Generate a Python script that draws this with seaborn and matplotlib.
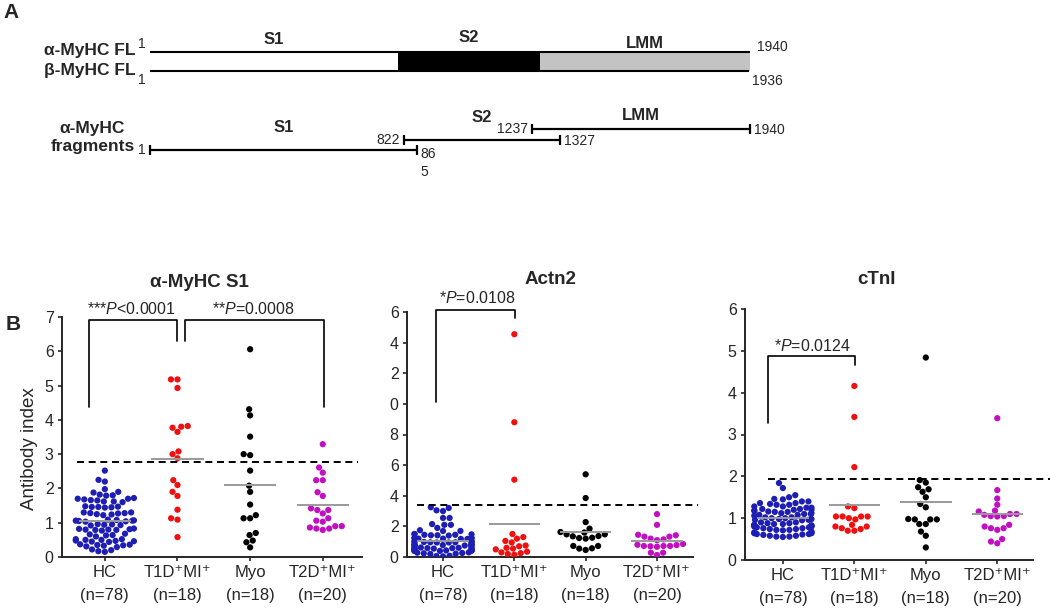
import numpy as np
import pandas as pd
import matplotlib
matplotlib.use("Agg")
import matplotlib.pyplot as plt
import seaborn as sns

# ---- panel A: myosin heavy chain constructs (residue numbers) ----
fl_domains = ["S1", "S2", "LMM"]
fl_bounds = [1, 802, 1260, 1940]          # domain borders of the full-length bar (estimated)
fl_alpha_end = 1940
fl_beta_end = 1936
frag_names = ["S1", "S2", "LMM"]
frag_start = [1, 822, 1237]
frag_end = [865, 1327, 1940]
frag_start_text = ["1", "822", "1237"]
frag_end_text = ["86\n5", "1327", "1940"]

# ---- panel B: antibody index per group ----
groups = ["HC", "T1D⁺MI⁺", "Myo", "T2D⁺MI⁺"]
group_n = [78, 18, 18, 20]

s1_hc = [2.52, 2.25, 2.2, 1.98, 1.9, 1.88, 1.82, 1.8, 1.79,
         1.72, 1.7, 1.68, 1.66, 1.62, 1.6, 1.62, 1.65, 1.7,
         1.48, 1.46, 1.45, 1.44, 1.46, 1.47,
         1.3, 1.28, 1.27, 1.24, 1.22, 1.25, 1.28, 1.3,
         1.08, 1.07, 1.06, 1.04, 1.03, 1.05, 1.06, 1.09,
         0.96, 0.95, 0.93, 0.92, 0.94,
         0.82, 0.8, 0.79, 0.77, 0.79, 0.8, 0.81, 0.83,
         0.68, 0.64, 0.6, 0.63, 0.66,
         0.52, 0.5, 0.48, 0.46, 0.44, 0.45, 0.47, 0.5, 0.52,
         0.37, 0.35, 0.33, 0.29, 0.31, 0.34, 0.36,
         0.22, 0.17, 0.15, 0.2]
s1_t1d = [5.18, 5.18, 4.93, 3.82, 3.65, 3.77, 3.8, 3.08, 3.0, 2.88,
          2.24, 2.1, 1.9, 1.78, 1.38, 1.13, 1.09, 0.58]
s1_myo = [6.06, 4.31, 4.13, 3.51, 3.0, 2.97, 2.52, 2.08, 1.9,
          1.53, 1.22, 1.13, 1.13, 0.7, 0.64, 0.48, 0.43, 0.28]
s1_t2d = [3.29, 2.61, 2.46, 2.24, 2.24, 1.89, 1.78, 1.37, 1.37, 1.42,
          1.27, 1.06, 1.13, 1.03, 0.9, 0.83, 0.79, 0.83, 0.86, 0.9]

actn_hc = [3.25, 3.2, 3.05, 3.0, 2.55, 2.55, 2.15, 2.1, 2.1,
           1.9, 1.75, 1.7, 1.7,
           1.5, 1.48, 1.45, 1.42, 1.4, 1.42, 1.45, 1.5,
           1.25, 1.22, 1.2, 1.18, 1.18, 1.2, 1.22, 1.25,
           1.02, 1.0, 0.98, 0.96, 0.95, 0.95, 0.96, 0.98, 1.0, 1.02,
           0.82, 0.8, 0.78, 0.76, 0.75, 0.75, 0.76, 0.78, 0.8, 0.82,
           0.62, 0.6, 0.58, 0.56, 0.55, 0.55, 0.56, 0.58, 0.6, 0.62,
           0.46, 0.45, 0.43, 0.41, 0.4, 0.4, 0.41, 0.43, 0.45, 0.46,
           0.3, 0.26, 0.22, 0.2, 0.24, 0.28, 0.08, 0.04, 0.06]
actn_t1d = [14.55, 8.8, 5.05, 1.5, 1.3, 1.2, 1.05, 0.95, 0.75, 0.7,
            0.6, 0.55, 0.5, 0.35, 0.3, 0.25, 0.2, 0.15]
actn_myo = [5.4, 3.85, 2.28, 1.85, 1.6, 1.48, 1.35, 1.26, 1.2,
            1.24, 1.37, 1.48, 1.63, 0.72, 0.57, 0.46, 0.55, 0.72]
actn_t2d = [2.8, 2.1, 1.45, 1.42, 1.33, 1.2, 1.1, 1.15, 1.33, 0.8,
            0.7, 0.85, 0.78, 0.72, 0.72, 0.67, 0.72, 0.28, 0.13, 0.28]

ctni_hc = [1.84, 1.72, 1.55,
           1.5, 1.45, 1.4, 1.36, 1.34, 1.36, 1.4, 1.46,
           1.32, 1.28, 1.25, 1.22, 1.2, 1.22, 1.25, 1.28, 1.32,
           1.2, 1.18, 1.16, 1.18,
           1.15, 1.12, 1.1, 1.08, 1.06, 1.08, 1.1, 1.12, 1.15,
           1.02, 1.0, 0.98, 0.96, 0.95, 0.96, 0.98, 1.0, 1.02,
           0.9, 0.88, 0.86, 0.84, 0.83, 0.84, 0.86, 0.88, 0.9,
           0.82, 0.8, 0.8, 0.82,
           0.78, 0.76, 0.74, 0.72, 0.71, 0.72, 0.74, 0.76, 0.78,
           0.68, 0.66, 0.64, 0.62, 0.61, 0.62, 0.64, 0.66,
           0.6, 0.58, 0.56, 0.55, 0.56, 0.58]
ctni_t1d = [4.16, 3.42, 2.22, 1.28, 1.24, 1.04, 1.04, 1.0, 0.97,
            1.04, 1.04, 0.84, 0.8, 0.74, 0.7, 0.7, 0.76, 0.8]
ctni_myo = [4.84, 1.91, 1.85, 1.74, 1.69, 1.63, 1.5, 1.34, 1.26,
            0.98, 0.97, 0.97, 0.97, 0.86, 0.86, 0.68, 0.58, 0.3]
ctni_t2d = [3.39, 1.67, 1.47, 1.32, 1.16, 1.1, 1.05, 1.04, 1.05, 1.08,
            1.1, 1.18, 0.8, 0.76, 0.72, 0.76, 0.84, 0.5, 0.4, 0.44]

panel_titles = ["α-MyHC S1", "Actn2", "cTnI"]
panel_values = [[s1_hc, s1_t1d, s1_myo, s1_t2d],
                [actn_hc, actn_t1d, actn_myo, actn_t2d],
                [ctni_hc, ctni_t1d, ctni_myo, ctni_t2d]]
cutoffs = [2.77, 3.4, 1.93]
p_labels = [[r"***$\it{P}$<0.0001", r"**$\it{P}$=0.0008"],
            [r"*$\it{P}$=0.0108"],
            [r"*$\it{P}$=0.0124"]]
ytick_vals = [list(range(0, 8)), list(range(0, 17, 2)), list(range(0, 7))]
ytick_text = [[str(v) for v in range(0, 8)],
              ["0", "2", "4", "6", "8", "0", "2", "4", "6"],
              [str(v) for v in range(0, 7)]]

# ---- style ----
sns.set_theme(style="ticks")
plt.rcParams["font.family"] = ["Liberation Sans", "DejaVu Sans"]
plt.rcParams["mathtext.fontset"] = "custom"
plt.rcParams["mathtext.rm"] = "Liberation Sans"
plt.rcParams["mathtext.it"] = "Liberation Sans:italic"
plt.rcParams["axes.linewidth"] = 1.4

colors = ["#1e1eb4", "#f01010", "#000000", "#c20fc2"]

fig = plt.figure(figsize=(10.5, 6.08), dpi=100)

# ================= panel A =================
axA = fig.add_axes([0, 1 - 200 / 608, 1, 200 / 608])
k = (fl_alpha_end - 1) / 600.0
axA.set_xlim(1 - 150 * k, 1 + 900 * k)
axA.set_ylim(200, 0)
axA.axis("off")

bar_top, bar_bot = 52, 71
fill_cols = ["white", "black", "#c3c3c3"]
for i, name in enumerate(fl_domains):
    axA.fill_between([fl_bounds[i], fl_bounds[i + 1]], bar_top, bar_bot,
                     color=fill_cols[i], lw=0)
    axA.text((fl_bounds[i] + fl_bounds[i + 1]) / 2, [40, 37, 43][i], name,
             ha="center", va="center", fontsize=12, fontweight="bold")
axA.hlines(bar_top, 1, fl_alpha_end, color="black", lw=1.5)
axA.hlines(bar_bot, 1, fl_beta_end, color="black", lw=1.5)
axA.annotate("1", (1, 44), xytext=(-3, 0), textcoords="offset points",
             ha="right", va="center", fontsize=10)
axA.annotate("1", (1, 80), xytext=(-3, 0), textcoords="offset points",
             ha="right", va="center", fontsize=10)
axA.annotate(str(fl_alpha_end), (fl_alpha_end, 47), xytext=(5, 0),
             textcoords="offset points", ha="left", va="center", fontsize=10)
axA.annotate(str(fl_beta_end), (fl_beta_end, 81), xytext=(2, 0),
             textcoords="offset points", ha="left", va="center", fontsize=10)
axA.text(0.129, 1 - 50 / 200, "α-MyHC FL", transform=axA.transAxes,
         ha="right", va="center", fontsize=12.5, fontweight="bold")
axA.text(0.129, 1 - 71 / 200, "β-MyHC FL", transform=axA.transAxes,
         ha="right", va="center", fontsize=12.5, fontweight="bold")
axA.text(0.088, 1 - 138 / 200, "α-MyHC\nfragments", transform=axA.transAxes,
         ha="center", va="center", fontsize=12.5, fontweight="bold",
         linespacing=1.25)

row_y = [150, 140, 129]
name_y = [127, 118, 115]
for i, name in enumerate(frag_names):
    y = row_y[i]
    axA.hlines(y, frag_start[i], frag_end[i], color="black", lw=1.6)
    axA.vlines([frag_start[i], frag_end[i]], y - 5, y + 5, color="black", lw=1.6)
    axA.text((frag_start[i] + frag_end[i]) / 2, name_y[i], name,
             ha="center", va="center", fontsize=12, fontweight="bold")
    axA.annotate(frag_start_text[i], (frag_start[i], y), xytext=(-3, 0),
                 textcoords="offset points", ha="right", va="center", fontsize=10)
    if i == 0:
        axA.annotate(frag_end_text[i], (frag_end[i], y - 3), xytext=(2, 0),
                     textcoords="offset points", ha="left", va="top", fontsize=10,
                     linespacing=1.35)
    else:
        axA.annotate(frag_end_text[i], (frag_end[i], y + 1), xytext=(3, 0),
                     textcoords="offset points", ha="left", va="center", fontsize=10)

fig.text(0.003, 1 - 13 / 608, "A", fontsize=15, fontweight="bold", va="center")
fig.text(0.005, 1 - 325 / 608, "B", fontsize=15, fontweight="bold", va="center")

# ================= panel B =================
ax_boxes = [[62 / 1050, 51 / 608, 300 / 1050, 240 / 608],
            [407 / 1050, 51 / 608, 286 / 1050, 245 / 608],
            [745 / 1050, 48 / 608, 288 / 1050, 251 / 608]]
xlims = [(-0.59, 3.54), (-0.505, 3.505), (-0.53, 3.5)]
title_pos = [(199, 282), (550, 280), (877, 280)]
dash_span = [(0.05, 0.987), (0.035, 1.017), (0.08, 1.06)]
# bracket layout: (x_left, x_right, y_top, y_left_end, y_right_end, text_x, text_y)
brackets = [[(-0.22, 0.99, 6.92, 4.37, 6.3, 0.36, 7.22),
             (1.11, 3.02, 6.92, 6.3, 4.37, 2.05, 7.22)],
            [(-0.1, 1.01, 16.13, 10.1, 15.6, 0.48, 16.9)],
            [(-0.21, 1.01, 4.88, 3.28, 4.67, 0.41, 5.12)]]

tick_labels = [f"{g}\n(n={n})" for g, n in zip(groups, group_n)]

for p in range(3):
    ax = fig.add_axes(ax_boxes[p])
    df = pd.DataFrame({
        "group": np.concatenate([[g] * len(v) for g, v in zip(groups, panel_values[p])]),
        "value": np.concatenate(panel_values[p]),
    })
    sns.swarmplot(data=df, x="group", y="value", hue="group", order=groups,
                  hue_order=groups, palette=colors, size=4.5, linewidth=0,
                  legend=False, ax=ax, warn_thresh=1.0)
    means = df.groupby("group")["value"].mean().reindex(groups).values
    ax.hlines(means, np.arange(4) - 0.36, np.arange(4) + 0.36,
              color="#9a9a9a", lw=1.4, zorder=5)
    ax.axhline(cutoffs[p], xmin=dash_span[p][0], xmax=dash_span[p][1],
               color="black", lw=1.4, dashes=(3.6, 2.4), clip_on=False, zorder=6)
    for b, lab in zip(brackets[p], p_labels[p]):
        x0, x1, yt, y0, y1, tx, ty = b
        ax.plot([x0, x0, x1, x1], [y0, yt, yt, y1], color="black", lw=1.2,
                clip_on=False)
        ax.text(tx, ty, lab, ha="center", va="center", fontsize=11.5)

    ax.set_xlim(*xlims[p])
    ax.set_ylim(0, ytick_vals[p][-1])
    ax.set_yticks(ytick_vals[p])
    ax.set_yticklabels(ytick_text[p])
    ax.set_xticks(range(4))
    ax.set_xticklabels(tick_labels, linespacing=1.6)
    ax.tick_params(axis="y", labelsize=11.5, length=3, width=1.2, pad=3)
    ax.tick_params(axis="x", labelsize=12, length=3, width=1.2, pad=3)
    ax.set_xlabel("")
    if p == 0:
        ax.set_ylabel("Antibody index", fontsize=13.5)
        ax.yaxis.set_label_coords(-0.08, 0.45)
    else:
        ax.set_ylabel("")
    sns.despine(ax=ax)
    fig.text(title_pos[p][0] / 1050, 1 - title_pos[p][1] / 608, panel_titles[p],
             ha="center", va="center", fontsize=13.5, fontweight="bold")

fig.savefig("out.png", dpi=100)
